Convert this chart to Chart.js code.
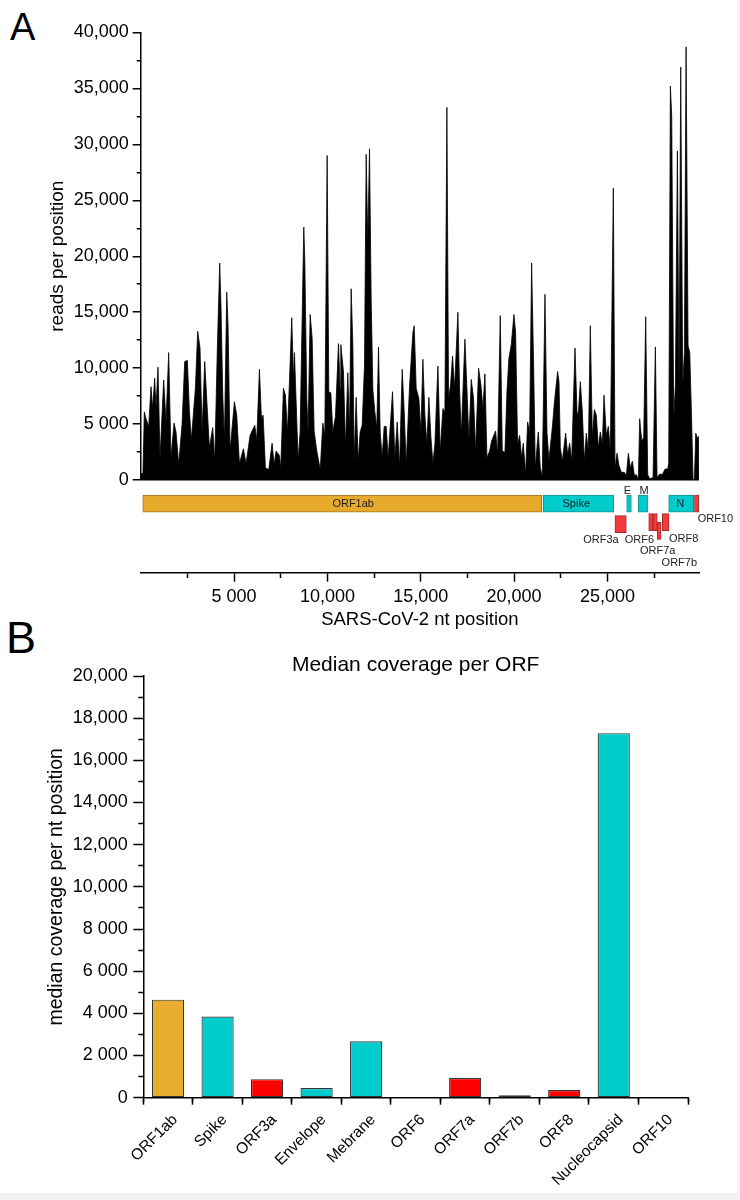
<!DOCTYPE html>
<html>
<head>
<meta charset="utf-8">
<script src="https://cdn.jsdelivr.net/npm/chart.js@4.4.1/dist/chart.umd.min.js"></script>
<style>
  html, body { margin: 0; padding: 0; background: #fff; }
  body { width: 740px; height: 1200px; position: relative; overflow: hidden; font-family: "Liberation Sans", Arial, sans-serif; }
  canvas { position: absolute; left: 0; }
  #coverage { top: 0; }
  #genes { top: 486px; }
  #median { top: 630px; }
  .panel { position: absolute; line-height: 1; color: #000; }
  #labelA { left: 10px; top: 8px; font-size: 38px; }
  #labelB { left: 6px; top: 615px; font-size: 45px; }
  .edge-bottom { position: absolute; left: 0; top: 1193px; width: 740px; height: 7px; background: #f0f0f0; }
  .edge-right { position: absolute; left: 737px; top: 0; width: 3px; height: 1200px; background: #f4f4f4; }
</style>
</head>
<body>
<div class="panel" id="labelA">A</div>
<div class="panel" id="labelB">B</div>
<canvas id="coverage" width="740" height="495"></canvas>
<canvas id="genes" width="740" height="145"></canvas>
<canvas id="median" width="740" height="570"></canvas>
<div class="edge-bottom"></div>
<div class="edge-right"></div>
<script>
const FONT = '"Liberation Sans", Arial, sans-serif';
Chart.defaults.font.family = FONT;
Chart.defaults.color = '#000';
Chart.defaults.animation = false;

// --- panel A: read coverage along the genome ---
const ntPosition = [
  0, 120, 195, 284, 427, 552, 641, 749, 820, 927,
  1034, 1231, 1356, 1499, 1624, 1785, 1892, 2035, 2213, 2357,
  2500, 2607, 2714, 2928, 3053, 3177, 3286, 3429, 3536, 3679,
  3858, 3965, 4108, 4233, 4304, 4394, 4484, 4608, 4680, 4786,
  5019, 5144, 5287, 5501, 5644, 5859, 5966, 6109, 6216, 6359,
  6466, 6555, 6680, 6859, 7038, 7145, 7252,
  7431, 7502, 7645, 7752, 7859, 7967, 8092, 8181, 8235, 8431,
  8538, 8735, 8789, 8896, 8967, 9075, 9182, 9289, 9432, 9617,
  9754, 9861, 9986, 10075, 10182, 10290, 10432, 10593, 10682, 10718,
  10861, 10968, 11093, 11183, 11272, 11362, 11433, 11540, 11647, 11754,
  11862, 11987, 12076, 12165, 12255, 12344, 12434, 12541, 12648, 12737,
  12826, 12934, 13041, 13148, 13255, 13488, 13613, 13738, 13863, 14006,
  14113, 14220, 14399, 14578, 14650,
  14756, 14899, 15006, 15114, 15221, 15328, 15436, 15542, 15650, 15757,
  15918, 16042, 16186, 16293, 16400, 16489, 16596, 16702, 16811, 16989,
  17079, 17168, 17365, 17472, 17579, 17705, 17829, 17936, 18098, 18222,
  18330, 18437, 18544, 18686, 18794, 19008, 19115, 19258, 19366, 19509,
  19616, 19723, 19848, 19991, 20080, 20187, 20295, 20402, 20491, 20616,
  20723, 20831, 20938, 21045, 21134, 21295, 21403, 21510, 21653, 21760,
  21867, 22046, 22171, 22331,
  22405, 22476, 22582, 22760, 22868, 22975, 23082, 23261, 23368, 23439,
  23546, 23654, 23761, 23868, 23975, 24082, 24190, 24297, 24404, 24511,
  24618, 24726, 24815, 24940, 25047, 25154, 25315, 25405, 25512, 25619,
  25744, 25905, 26012, 26119, 26226, 26334, 26441, 26548, 26655, 26727,
  26834, 26941, 27048, 27155, 27263, 27442, 27567, 27656, 27799, 27942,
  28085, 28227, 28281, 28370, 28442, 28549, 28639, 28746, 28835, 28924,
  29031, 29121, 29211, 29318, 29407, 29496, 29586, 29657, 29729, 29802,
  29871, 29903
];
const readsPerPosition = [
  600, 600, 6100, 5500, 4800, 8350, 6400, 9100, 6400, 10100,
  2000, 8950, 5200, 11400, 2000, 5100, 4300, 1400, 4950, 10600,
  10700, 6200, 3600, 8200, 13300, 11800, 4300, 10600, 7300, 2900,
  4700, 1700, 12000, 19400, 15300, 7600, 3500, 16800, 13800, 2600,
  7000, 5800, 1500, 2800, 1500, 4000, 4400, 4900, 3600, 9900,
  5500, 5800, 1100, 950, 3300, 1400, 2600,
  2200, 1100, 8200, 7600, 4300, 8800, 14500, 9100, 11400, 1800,
  4300, 22600, 19700, 7300, 4300, 14800, 12700, 4400, 2600, 950,
  5100, 4000, 29000, 7900, 7800, 4300, 5700, 12200, 8200, 12100,
  9700, 2900, 9600, 4300, 17100, 12100, 1700, 7400, 1700, 4300,
  4900, 10300, 29100, 21300, 29600, 16200, 8100, 6100, 4700, 11900,
  4300, 2000, 4800, 4800, 2000, 7900, 2000, 5200, 1200, 9900,
  6100, 1400, 8400, 13200, 13800,
  8200, 7300, 4300, 10800, 5800, 3200, 7400, 3900, 1500, 3200,
  10200, 2500, 6400, 6100, 33300, 7300, 8500, 11100, 8200, 15000,
  8200, 4000, 12600, 8200, 3500, 9000, 7300, 2600, 10000, 8500,
  6400, 9500, 2000, 2600, 3500, 4400, 2300, 14700, 2600, 2500,
  7900, 10900, 12100, 14800, 13200, 3200, 4000, 2000, 3300, 530,
  5200, 4300, 19400, 10300, 1100, 4300, 1100, 360, 16600, 4300,
  1800, 4700, 7200, 9700,
  8800, 2900, 1700, 4200, 2300, 3300, 1700, 11800, 6100, 5800,
  8800, 6100, 1700, 4200, 2600, 13800, 3800, 6300, 5800, 2900,
  4300, 3200, 7600, 4000, 4800, 2600, 26100, 1100, 2400, 1300,
  700, 700, 400, 2400, 1100, 1700, 400, 500, 50, 5500,
  3500, 3800, 14600, 500, 100, 250, 11900, 250, 550, 500,
  1000, 1000, 1500, 35200, 32500, 5500, 8500, 29400, 8500, 36900,
  8500, 11400, 38700, 12000, 11400, 6100, 0, 100, 4200, 3800,
  3900, 0
];
const genomeLength = 29903;

// gene map under the coverage track (row 0 = main row)
const geneNames = ['ORF1ab', 'Spike', 'E', 'M', 'N', 'ORF10', 'ORF3a', 'ORF6', 'ORF7a', 'ORF7b', 'ORF8'];
const geneStart = [110, 21560, 26030, 26640, 28280, 29660, 25400, 27210, 27440, 27670, 27940];
const geneEnd   = [21480, 25330, 26280, 27150, 29620, 29900, 26010, 27440, 27670, 27870, 28300];
const geneRow   = [0, 0, 0, 0, 0, 0, 1, 0.9, 0.9, 1.33, 0.9];
const geneKind  = ['orf1ab', 'structural', 'structural', 'structural', 'structural', 'accessory',
                   'accessory', 'accessory', 'accessory', 'accessory', 'accessory'];

const geneLabels   = ['ORF1ab', 'Spike', 'N', 'E', 'M', 'ORF10', 'ORF3a', 'ORF6', 'ORF7a', 'ORF8', 'ORF7b'];
const geneLabelNt  = [11380, 23330, 28900, 26070, 26960, 30780, 24650, 26710, 27690, 29080, 28850];
const geneLabelRow = [0, 0, 0, -0.63, -0.63, 0.75, 1.77, 1.77, 2.31, 1.72, 2.88];

// --- panel B: median coverage per ORF ---
const orfNames = ['ORF1ab', 'Spike', 'ORF3a', 'Envelope', 'Mebrane', 'ORF6', 'ORF7a', 'ORF7b', 'ORF8', 'Nucleocapsid', 'ORF10'];
const medianCoverage = [4650, 3850, 880, 455, 2680, 0, 935, 115, 365, 17290, 30];
const orfKind = ['orf1ab', 'structural', 'accessory', 'structural', 'structural', 'accessory',
                 'accessory', 'accessory', 'accessory', 'structural', 'accessory'];

const geneFill   = { orf1ab: '#E8AA2D', structural: '#00CCCC', accessory: '#F03C3C' };
const geneBorder = { orf1ab: '#9A7420', structural: '#1F8A8A', accessory: '#A52A2A' };
const barFill    = { orf1ab: '#E8AC2E', structural: '#00CCCC', accessory: '#FF0000' };

// "5 000" below ten thousand, "10,000" above, like the original
function fmtThousands(v) {
  if (v === 0) return '0';
  const head = Math.floor(v / 1000);
  const tail = String(v % 1000).padStart(3, '0');
  return head + (v < 10000 ? ' ' : ',') + tail;
}

function stepTicks(from, to, step) {
  const ticks = [];
  for (let v = from; v <= to; v += step) ticks.push({ value: v });
  return ticks;
}

const minorDash = (every, dash) => (c) => (c.tick && c.tick.value % every !== 0 ? dash : []);

// coverage track
new Chart(document.getElementById('coverage'), {
  type: 'line',
  data: {
    datasets: [{
      data: ntPosition.map((x, i) => ({ x, y: readsPerPosition[i] })),
      borderColor: '#000',
      backgroundColor: '#000',
      borderWidth: 0.8,
      fill: 'origin',
      pointRadius: 0,
      tension: 0,
    }],
  },
  options: {
    responsive: false,
    layout: { padding: { left: 46, right: 41, top: 32.3, bottom: 12.7 } },
    plugins: { legend: { display: false }, tooltip: { enabled: false } },
    scales: {
      x: { type: 'linear', min: 0, max: genomeLength, display: false },
      y: {
        min: 0,
        max: 40000,
        afterBuildTicks: (s) => { s.ticks = stepTicks(0, 40000, 2500); },
        afterFit: (s) => { s.width = 94.7; },
        ticks: { font: { size: 18 }, padding: 4, autoSkip: false, callback: (v) => (v % 5000 === 0 ? fmtThousands(v) : '') },
        grid: {
          drawOnChartArea: true,
          color: (c) => (c.tick && c.tick.value === 0 ? '#000' : 'rgba(0,0,0,0)'),
          lineWidth: 1.5,
          tickLength: 8,
          tickColor: '#000',
          tickWidth: 1.5,
          tickBorderDash: minorDash(5000, [0, 4, 4, 50]),
        },
        border: { display: true, color: '#000', width: 1.5 },
        title: { display: true, text: 'reads per position', font: { size: 19 }, padding: { top: 0, bottom: 0 } },
      },
    },
  },
});

// gene names on the map
const geneLabelPlugin = {
  id: 'geneLabels',
  afterDatasetsDraw(chart) {
    const { ctx, scales: { x, y } } = chart;
    ctx.save();
    ctx.font = '11px ' + FONT;
    ctx.fillStyle = '#222';
    ctx.textAlign = 'center';
    ctx.textBaseline = 'middle';
    geneLabels.forEach((t, i) => {
      ctx.fillText(t, x.getPixelForValue(geneLabelNt[i]), y.getPixelForValue(geneLabelRow[i]));
    });
    ctx.restore();
  },
};

const geneDatasets = ['orf1ab', 'structural', 'accessory'].map((kind) => {
  const idx = geneNames.map((n, i) => i).filter((i) => geneKind[i] === kind);
  return {
    data: idx.map((i) => ({ x: [geneStart[i], geneEnd[i]], y: geneRow[i] })),
    backgroundColor: geneFill[kind],
    borderColor: geneBorder[kind],
    borderWidth: 1,
    borderSkipped: false,
    barThickness: 17,
    grouped: false,
  };
});

new Chart(document.getElementById('genes'), {
  type: 'bar',
  data: { datasets: geneDatasets },
  plugins: [geneLabelPlugin],
  options: {
    indexAxis: 'y',
    responsive: false,
    layout: { padding: { left: 140.7, right: 41, top: 0, bottom: 0 } },
    plugins: { legend: { display: false }, tooltip: { enabled: false } },
    scales: {
      x: {
        type: 'linear',
        min: 0,
        max: genomeLength,
        afterBuildTicks: (s) => { s.ticks = stepTicks(2500, 27500, 2500); },
        afterFit: (s) => { s.height = 58.3; },
        ticks: { font: { size: 18 }, padding: 5, maxRotation: 0, autoSkip: false, callback: (v) => (v % 5000 === 0 ? fmtThousands(v) : '') },
        grid: { drawOnChartArea: false, tickLength: 9, tickColor: '#000', tickWidth: 1.5, tickBorderDash: minorDash(5000, [4.5, 50]) },
        border: { display: true, color: '#000', width: 1.5 },
        title: { display: true, text: 'SARS-CoV-2 nt position', font: { size: 18.5 }, padding: { top: 0, bottom: 0 } },
      },
      y: { type: 'linear', reverse: true, offset: false, min: -0.86, max: 3.37, display: false },
    },
  },
});

// median coverage bars
new Chart(document.getElementById('median'), {
  type: 'bar',
  data: {
    labels: orfNames,
    datasets: [{
      data: medianCoverage,
      backgroundColor: orfKind.map((k) => barFill[k]),
      borderColor: '#333',
      borderWidth: 1.2,
      borderSkipped: false,
      barPercentage: 0.65,
      categoryPercentage: 1,
    }],
  },
  options: {
    responsive: false,
    layout: { padding: { left: 45, right: 52, top: 0, bottom: 0 } },
    plugins: {
      legend: { display: false },
      tooltip: { enabled: false },
      title: {
        display: true,
        text: 'Median coverage per ORF',
        color: '#000',
        font: { size: 21, weight: 'normal', lineHeight: 1 },
        padding: { top: 25, bottom: 0 },
        fullSize: false,
      },
    },
    scales: {
      x: {
        offset: true,
        afterFit: (s) => { s.height = 102.3; },
        ticks: { font: { size: 15.5 }, minRotation: 45, maxRotation: 45, autoSkip: false, padding: 6, labelOffset: 7 },
        grid: { drawOnChartArea: false, tickLength: 7, tickColor: '#000', tickWidth: 1.5 },
        border: { display: true, color: '#000', width: 1.5 },
      },
      xMinor: {
        type: 'category',
        axis: 'x',
        position: { y: 0 },
        labels: orfNames,
        offset: true,
        ticks: { display: false },
        grid: { offset: true, drawOnChartArea: false, tickLength: 4, tickColor: '#000', tickWidth: 1.5 },
        border: { display: false },
      },
      y: {
        min: 0,
        max: 20000,
        afterBuildTicks: (s) => { s.ticks = stepTicks(0, 20000, 1000); },
        afterFit: (s) => { s.width = 98.3; },
        ticks: { font: { size: 18 }, padding: 5.5, autoSkip: false, callback: (v) => (v % 2000 === 0 ? fmtThousands(v) : '') },
        grid: { drawOnChartArea: false, tickLength: 10, tickColor: '#000', tickWidth: 1.5, tickBorderDash: minorDash(2000, [0, 5, 5, 50]) },
        border: { display: true, color: '#000', width: 1.5 },
        title: { display: true, text: 'median coverage per nt position', font: { size: 19.5 }, padding: { top: 0, bottom: 0 } },
      },
    },
  },
});
</script>
</body>
</html>
